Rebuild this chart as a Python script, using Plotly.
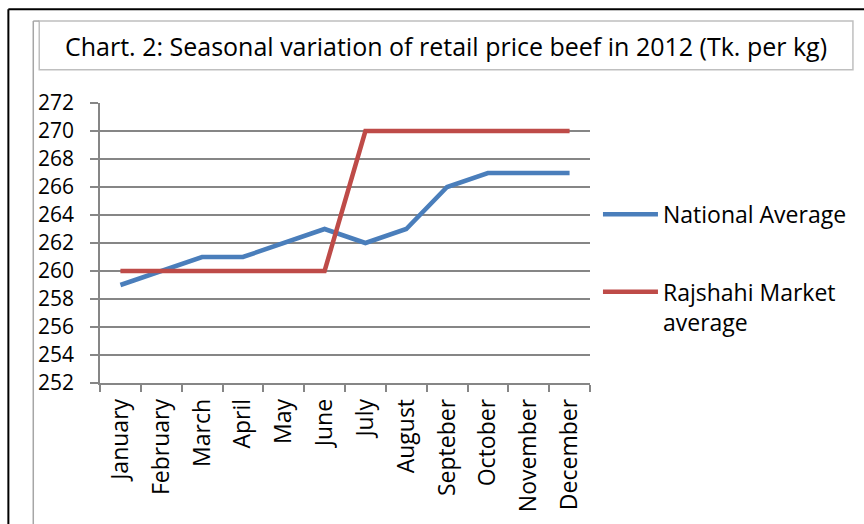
import plotly.graph_objects as go

months = ["January", "February", "March", "April", "May", "June", "July",
          "August", "Septeber", "October", "November", "December"]
national = [259, 260, 261, 261, 262, 263, 262, 263, 266, 267, 267, 267]
rajshahi = [260, 260, 260, 260, 260, 260, 270, 270, 270, 270, 270, 270]
y_ticks = list(range(252, 273, 2))

FONT = "Open Sans"
W, H = 864, 524
L, R, T, B = 100, 592, 103, 390

def px(x):
    return (x - L) / (R - L)

def py(y):
    return (B - y) / (B - T)

fig = go.Figure()
fig.add_trace(go.Scatter(x=months, y=national, mode="lines", name="National Average",
                         line=dict(color="#4a7ebb", width=4.5), legend="legend", showlegend=True))
fig.add_trace(go.Scatter(x=months, y=rajshahi, mode="lines", name="Rajshahi Market<br>average",
                         line=dict(color="#be4b48", width=4.5), legend="legend2", showlegend=True))

shapes = [
    dict(type="line", xref="paper", yref="paper", x0=px(8), x1=px(8), y0=py(7), y1=py(540),
         line=dict(color="black", width=2)),
    dict(type="line", xref="paper", yref="paper", x0=px(8), x1=px(880), y0=py(7), y1=py(7),
         line=dict(color="black", width=2)),
    dict(type="line", xref="paper", yref="paper", x0=px(33), x1=px(33), y0=py(19), y1=py(540),
         line=dict(color="#a6a6a6", width=1.5)),
    dict(type="line", xref="paper", yref="paper", x0=px(33), x1=px(39), y0=py(19), y1=py(19),
         line=dict(color="#a6a6a6", width=1.5)),
    dict(type="rect", xref="paper", yref="paper", x0=px(39), x1=px(856), y0=py(69), y1=py(19),
         line=dict(color="#bfbfbf", width=1.5), fillcolor="white", layer="below"),
]

fig.update_layout(
    width=W, height=H,
    margin=dict(l=L, r=W - R, t=T, b=H - B),
    paper_bgcolor="white", plot_bgcolor="white",
    font=dict(family=FONT, color="black"),
    shapes=shapes,
    annotations=[dict(text="Chart. 2: Seasonal variation of retail price beef in 2012 (Tk. per kg)",
                      xref="paper", yref="paper", x=px(447), y=py(45),
                      xanchor="center", yanchor="middle", showarrow=False,
                      font=dict(family=FONT, size=25, color="black"))],
    xaxis=dict(type="category", range=[-0.5, 11.5], tickson="boundaries",
               ticks="outside", ticklen=7, tickcolor="#868686", tickwidth=1.5,
               showline=True, linecolor="#868686", linewidth=1.5,
               showgrid=False, tickangle=-90, tickfont=dict(size=23, family=FONT),
               ticklabelstandoff=5, fixedrange=True),
    yaxis=dict(range=[252, 272], tickvals=y_ticks, ticktext=[str(v) for v in y_ticks],
               ticks="outside", ticklen=8, tickcolor="#868686", tickwidth=1.5,
               showline=True, linecolor="#868686", linewidth=1.5,
               showgrid=True, gridcolor="#868686", gridwidth=1.5,
               tickfont=dict(size=21, family=FONT), ticklabelstandoff=12,
               zeroline=False, fixedrange=True),
    legend=dict(x=px(600), y=py(217), xanchor="left", yanchor="middle", itemwidth=55,
                font=dict(size=23, family=FONT), bgcolor="rgba(0,0,0,0)"),
    legend2=dict(x=px(600), y=py(312), xanchor="left", yanchor="middle", itemwidth=55,
                 valign="top", font=dict(size=23, family=FONT), bgcolor="rgba(0,0,0,0)"),
)

fig.write_html("out.html", post_script="document.body.style.margin='0';",
               config={"displayModeBar": False, "staticPlot": False})
